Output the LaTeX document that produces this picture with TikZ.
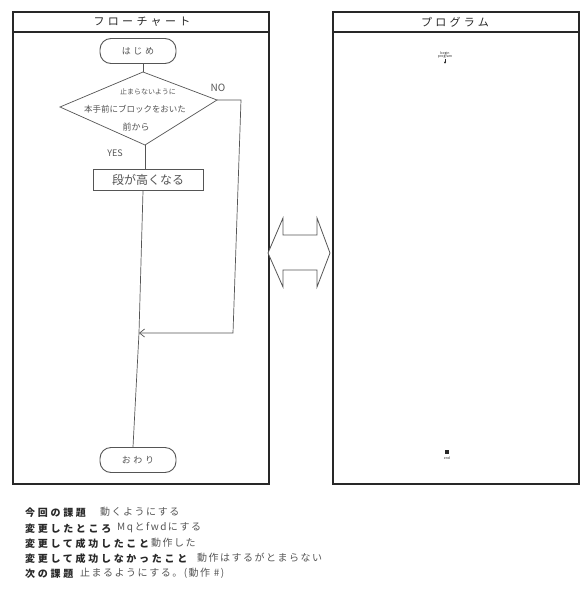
\documentclass[tikz,border=0pt]{standalone}
\usepackage{fontspec}
\setmainfont{Noto Sans CJK JP}
\newfontfamily\jp{Noto Sans CJK JP}
\newfontfamily\jpw[LetterSpace=30]{Noto Sans CJK JP}
\newfontfamily\jplab[LetterSpace=27]{Noto Sans CJK JP}
\newfontfamily\jphand[LetterSpace=15]{Noto Sans CJK JP}
\usetikzlibrary{shapes.geometric,arrows.meta}
\definecolor{ink}{RGB}{40,40,40}
\definecolor{pencil}{RGB}{85,85,85}
\tikzset{
  panel/.style={draw=ink,line width=1.6pt},
  titlebar/.style={font=\jpw\fontsize{11}{11}\selectfont,text=ink},
  term/.style={draw=pencil,line width=0.9pt,rounded corners=11pt,minimum width=76pt,minimum height=25pt,inner sep=0pt,font=\jpw\fontsize{9}{9}\selectfont,text=pencil},
  proc/.style={draw=pencil,line width=0.8pt,minimum width=110pt,minimum height=21pt,inner sep=0pt,font=\jp\fontsize{12}{12}\selectfont,text=pencil},
  flow/.style={draw=pencil,line width=0.7pt},
  hand/.style={font=\jphand\fontsize{10}{10}\selectfont,text=pencil,anchor=west,inner sep=0pt},
  lab/.style={font=\jplab\bfseries\fontsize{10}{10}\selectfont,text=ink,anchor=west,inner sep=0pt},
}
\begin{document}
\begin{tikzpicture}[x=1pt,y=-1pt]
\useasboundingbox (0,0) rectangle (580,592);
\fill[white] (0,0) rectangle (580,592);
% left panel
\draw[panel] (13,12) rectangle (269,484);
\draw[panel] (13,32) -- (269,32);
\node[titlebar] (t1) at (142,22) {フローチャート};
% right panel
\draw[panel] (333,12) rectangle (579,484);
\draw[panel] (333,32) -- (579,32);
\node[titlebar] (t2) at (455,22) {プログラム};
% flowchart
\node[term] (start) at (138,51) {はじめ};
\coordinate (dt) at (143,72);
\coordinate (dl) at (60,107);
\coordinate (dr) at (217,100);
\coordinate (db) at (145,145);
\draw[flow] (dt) -- (dr) -- (db) -- (dl) -- cycle;
\node[font=\jp\fontsize{7}{7}\selectfont,text=pencil] (c1) at (148,92) {止まらないように};
\node[font=\jp\fontsize{8.5}{8.5}\selectfont,text=pencil] (c2) at (135,109) {本手前にブロックをおいた};
\node[font=\jp\fontsize{9}{9}\selectfont,text=pencil] (c3) at (136,127) {前から};
\draw[flow] (start.south -| dt) -- (dt);
\node[font=\fontsize{10}{10}\selectfont,text=pencil] (no) at (218,88) {NO};
\node[font=\fontsize{9}{9}\selectfont,text=pencil] (yes) at (115,153) {YES};
\node[proc] (box) at (148,180) {段が高くなる};
\draw[flow] (db) -- (box.north -| db);
\coordinate (m) at (139,333);
\coordinate (r1) at (241,100);
\coordinate (r2) at (233,333);
\draw[flow,-{Straight Barb[length=5pt,width=8pt]}] (dr) -- (r1) -- (r2) -- (m);
\node[term] (end) at (138,460) {おわり};
\draw[flow] (box.south -| 143,0) -- (m) -- (end.north -| 133,0);
% double arrow
\draw[draw=pencil,line width=0.8pt,fill=white] (268,253) -- (283,218) -- (283,235) -- (317,235) -- (317,218) -- (330,253) -- (317,287) -- (317,270) -- (283,270) -- (283,287) -- cycle;
% program icons
\node[font=\fontsize{3.5}{3.5}\selectfont,text=ink,align=center,inner sep=0pt] (bg) at (445,55) {begin\\program};
\draw[ink,line width=0.6pt,-{Latex[length=2pt,width=2.5pt]}] (bg.south) -- ++(0,5);
\node[fill=ink,minimum width=4pt,minimum height=4pt,inner sep=0pt] (eb) at (447,452) {};
\node[font=\fontsize{3.5}{3.5}\selectfont,text=ink,inner sep=0pt] (et) at (447,458) {end};
% bottom notes
\node[lab] (l1) at (25,513) {今回の課題};
\node[hand] (h1) at (100,512) {動くようにする};
\node[lab] (l2) at (25,529) {変更したところ};
\node[hand] (h2) at (117,528) {Mqとfwdにする};
\node[lab] (l3) at (25,544) {変更して成功したこと};
\node[hand] (h3) at (151,543) {動作した};
\node[lab] (l4) at (25,559) {変更して成功しなかったこと};
\node[hand] (h4) at (197,558) {動作はするがとまらない};
\node[lab] (l5) at (25,574) {次の課題};
\node[hand] (h5) at (80,573) {止まるようにする。(動作 \#)};
\end{tikzpicture}
\end{document}
